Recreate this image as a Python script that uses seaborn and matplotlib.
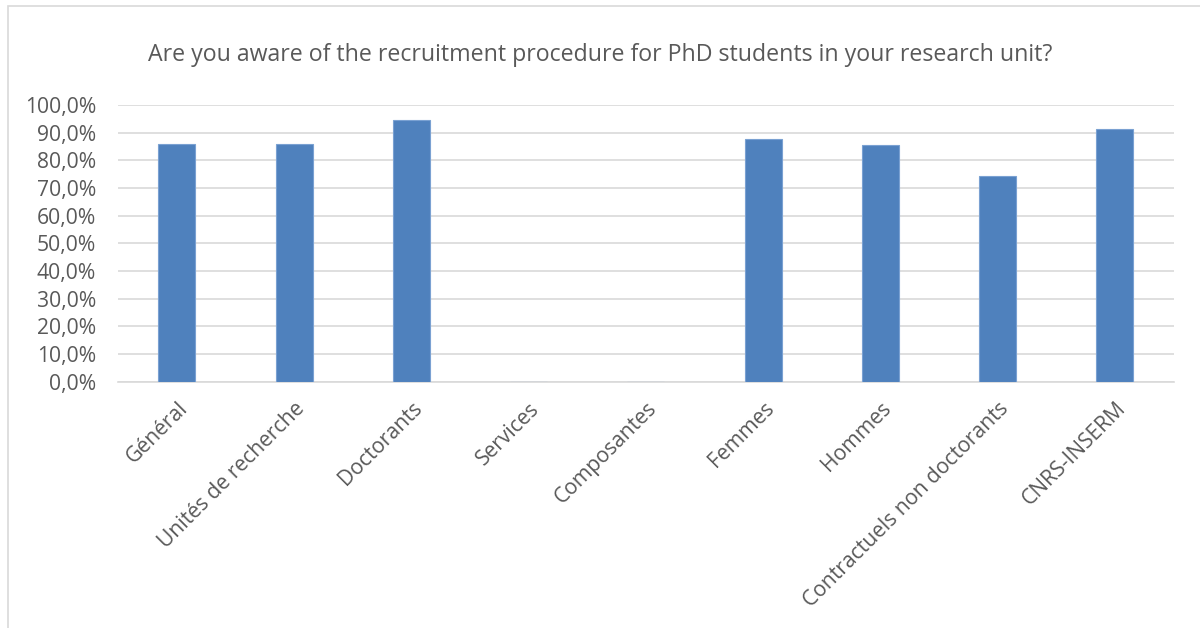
import matplotlib
matplotlib.use("Agg")
import matplotlib.pyplot as plt
import matplotlib.patches as mpatches
from matplotlib.ticker import FuncFormatter, MultipleLocator
import numpy as np
import pandas as pd
import seaborn as sns

# Données
categories = ["Général", "Unités de recherche", "Doctorants", "Services", "Composantes",
              "Femmes", "Hommes", "Contractuels non doctorants", "CNRS-INSERM"]
valeurs = [86.0, 86.0, 94.7, 0.0, 0.0, 87.5, 85.4, 74.2, 91.2]
titre = "Are you aware of the recruitment procedure for PhD students in your research unit?"

df = pd.DataFrame({"categorie": categories, "valeur": valeurs})

sns.set_theme(style="white")
plt.rcParams['font.family'] = ['Open Sans', 'DejaVu Sans']

fig = plt.figure(figsize=(12, 6.28), dpi=100)
ax = fig.add_axes([0.0985, 0.3925, 0.8795, 0.4405])

sns.barplot(data=df, x="categorie", y="valeur", color="#4f81bd", width=0.315,
            saturation=1, edgecolor="#7aa1d2", linewidth=0.8, ax=ax, zorder=3)

ax.set_ylim(0, 100)
ax.set_xlim(-0.5, len(categories) - 0.5)
ax.yaxis.set_major_locator(MultipleLocator(10))
ax.yaxis.set_major_formatter(FuncFormatter(lambda v, p: f"{v:.1f}%".replace(".", ",")))
ax.grid(axis="y", color="#d9d9d9", linewidth=1.2, zorder=0)
ax.set_axisbelow(True)
for s in ["left", "right", "top"]:
    ax.spines[s].set_visible(False)
ax.spines["bottom"].set_color("#d9d9d9")
ax.spines["bottom"].set_linewidth(1.2)
ax.set_xlabel("")
ax.set_ylabel("")
ax.tick_params(axis="y", labelsize=15.2, labelcolor="#595959", length=0, pad=16)
ax.tick_params(axis="x", labelsize=15.2, labelcolor="#595959", length=0, pad=12)
plt.setp(ax.get_xticklabels(), rotation=45, ha="right", rotation_mode="anchor")

fig.text(0.5, 0.912, titre, ha="center", va="center", fontsize=16.7, color="#595959")

# cadre du graphique
fig.patches.append(mpatches.Rectangle((0.007, -0.01), 1.0, 1.0, transform=fig.transFigure,
                                      fill=False, edgecolor="#d9d9d9", linewidth=1.2))

fig.savefig("out.png", dpi=100)
